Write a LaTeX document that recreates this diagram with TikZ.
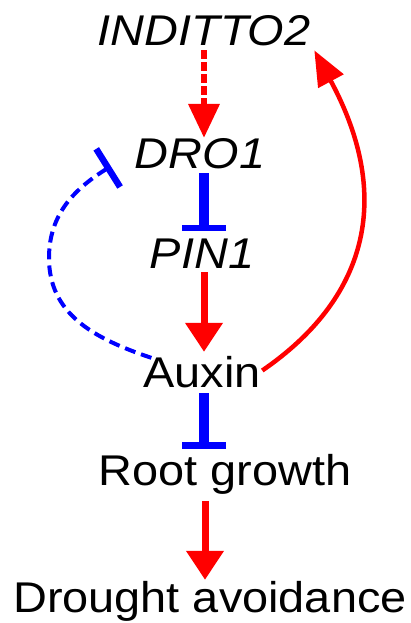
\documentclass[tikz,border=0pt]{standalone}
\usepackage{fontspec}
\setmainfont{Liberation Sans}[FakeStretch=1.09]
\usetikzlibrary{arrows.meta}
\definecolor{actred}{RGB}{255,0,0}
\definecolor{inhblue}{RGB}{0,0,255}
\begin{document}
\begin{tikzpicture}[x=1pt,y=-1pt,
  lbl/.style={inner sep=0pt,outer sep=0pt,anchor=base,
    font=\fontsize{43}{50}\selectfont},
  gene/.style={lbl,font=\fontsize{43}{50}\selectfont\itshape},
  actarrow/.style={draw=actred,line width=7pt,
    -{Triangle[length=29pt,width=36pt]}},
  inhbar/.style={draw=inhblue,line width=9.5pt,
    -{Bar[width=44pt,line width=6.5pt]}},
]
\useasboundingbox (0,0) rectangle (411,623);

% labels
\node[gene] (ind)  at (204,46)  {INDITTO2};
\node[gene] (dro)  at (200,168) {DRO1};
\node[gene] (pin)  at (202,268) {PIN1};
\node[lbl]  (aux)  at (202,387) {Auxin};
\node[lbl]  (root) at (225,485) {Root growth};
\node[lbl]  (drav) at (210,612) {Drought avoidance};

% vertical column of the main cascade
\coordinate (col) at (204,0);

% INDITTO2 -> DRO1 (dashed activation)
\draw[draw=actred,line width=6.5pt,dash pattern=on 8.5pt off 3.5pt,
      -{Triangle[length=34pt,width=30pt]},shorten <=4pt]
  (ind.south -| col) -- (dro.north -| col);

% DRO1 -| PIN1
\draw[inhbar,shorten <=5pt,shorten >=7pt]
  (dro.south -| col) -- (pin.north -| col);

% PIN1 -> Auxin
\draw[actarrow,shorten <=4pt,shorten >=4pt]
  (pin.south -| col) -- (aux.north -| col);

% Auxin -| Root growth
\draw[inhbar,shorten <=6pt,shorten >=5pt]
  (aux.south -| col) -- (root.north -| col);

% Root growth -> Drought avoidance
\draw[actarrow,line width=7pt,shorten <=7pt,shorten >=1pt]
  ([xshift=1pt]root.south -| col) -- ([xshift=1pt]drav.north -| col);

% Auxin -> INDITTO2 feedback
\draw[draw=actred,line width=4.5pt,-{Triangle[length=35pt,width=28pt]},
      shorten <=2pt]
  (aux.east) .. controls (365,300) and (395,200)
  .. ([xshift=4pt,yshift=-4pt]ind.south east);

% Auxin -| DRO1 feedback (dashed)
\draw[draw=inhblue,line width=4pt,dash pattern=on 11pt off 6pt,
      -{Bar[width=45pt,line width=6.5pt]}]
  ([xshift=8pt,yshift=-2pt]aux.north west)
  .. controls (92,338) and (49,313) .. (49,258)
  .. controls (49,213) and (76,188) .. ([xshift=-24pt,yshift=-13pt]dro.west);
\end{tikzpicture}
\end{document}
